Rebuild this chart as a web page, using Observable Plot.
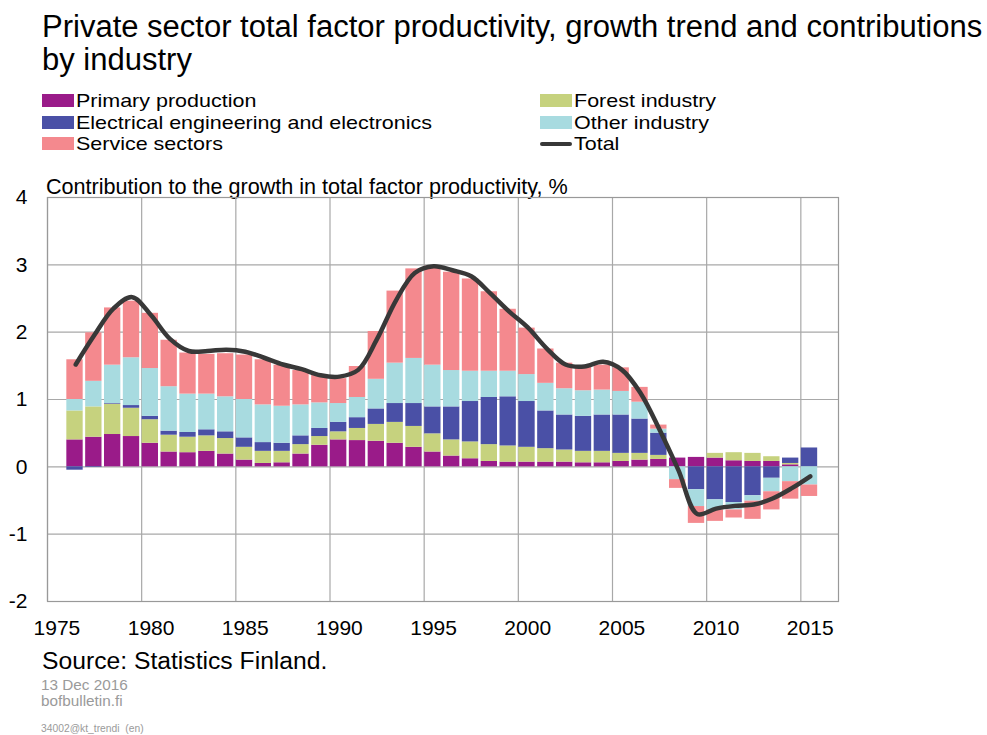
<!DOCTYPE html>
<html><head><meta charset="utf-8">
<script src="https://cdn.jsdelivr.net/npm/d3@7"></script>
<script src="https://cdn.jsdelivr.net/npm/@observablehq/plot@0.6"></script>
<style>
body{margin:0;background:#fff;font-family:"Liberation Sans",Arial,sans-serif;color:#000;}
#page{position:relative;width:987px;height:735px;overflow:hidden;background:#fff;}
.abs{position:absolute;white-space:nowrap;line-height:1;}
#title{left:42px;top:10px;font-size:31px;line-height:33px;white-space:normal;width:945px;}
.leg{position:absolute;font-size:19px;line-height:19px;white-space:nowrap;transform:scaleX(1.131);transform-origin:0 50%;}
.sw{position:absolute;width:32px;height:13px;}
#chart{position:absolute;left:0;top:170px;}
</style></head><body><div id="page">
<div id="title" class="abs">Private sector total factor productivity, growth trend and contributions by industry</div>
<div id="legend"></div>
<div class="abs" style="left:46px;top:175.8px;font-size:21.6px;">Contribution to the growth in total factor productivity, %</div>
<div id="chart"></div>
<div class="abs" style="left:42px;top:649.1px;font-size:24.7px;">Source: Statistics Finland.</div>
<div class="abs" style="left:41px;top:677px;font-size:15.3px;color:#9a9a9a;">13 Dec 2016</div>
<div class="abs" style="left:41px;top:693px;font-size:15.3px;color:#9a9a9a;">bofbulletin.fi</div>
<div class="abs" style="left:41px;top:724.3px;font-size:10.3px;color:#9a9a9a;white-space:pre;">34002@kt_trendi  (en)</div>
</div>
<script>
const years = [1976,1977,1978,1979,1980,1981,1982,1983,1984,1985,1986,1987,1988,1989,1990,1991,1992,1993,1994,1995,1996,1997,1998,1999,2000,2001,2002,2003,2004,2005,2006,2007,2008,2009,2010,2011,2012,2013,2014,2015];
const primary    = [0.40,0.44,0.48,0.45,0.35,0.22,0.21,0.23,0.19,0.10,0.05,0.06,0.19,0.32,0.40,0.39,0.38,0.35,0.29,0.22,0.16,0.12,0.08,0.07,0.07,0.07,0.07,0.06,0.06,0.08,0.10,0.11,0.13,0.14,0.13,0.09,0.08,0.08,0.03,0.00];
const forest     = [0.43,0.45,0.45,0.42,0.35,0.25,0.23,0.23,0.23,0.19,0.18,0.17,0.14,0.13,0.12,0.18,0.25,0.31,0.31,0.27,0.24,0.25,0.25,0.24,0.22,0.20,0.18,0.17,0.17,0.12,0.10,0.06,0.00,0.00,0.07,0.12,0.12,0.07,0.02,0.00];
const electrical = [-0.05,-0.01,0.01,0.04,0.05,0.06,0.07,0.09,0.10,0.14,0.13,0.12,0.13,0.12,0.14,0.16,0.23,0.28,0.34,0.40,0.49,0.60,0.70,0.73,0.68,0.56,0.52,0.52,0.54,0.57,0.51,0.33,0.00,-0.34,-0.49,-0.53,-0.43,-0.17,0.08,0.28];
const other      = [0.17,0.38,0.57,0.71,0.71,0.66,0.57,0.53,0.52,0.57,0.56,0.55,0.46,0.38,0.28,0.30,0.44,0.60,0.67,0.62,0.54,0.45,0.39,0.38,0.40,0.41,0.39,0.38,0.37,0.35,0.25,0.06,-0.19,-0.25,-0.15,-0.11,-0.08,-0.20,-0.22,-0.27];
const service    = [0.59,0.72,0.85,0.84,0.82,0.69,0.61,0.59,0.64,0.66,0.67,0.61,0.51,0.41,0.37,0.46,0.71,1.07,1.33,1.47,1.46,1.37,1.18,0.92,0.69,0.51,0.38,0.36,0.37,0.35,0.22,0.06,-0.13,-0.25,-0.17,-0.12,-0.27,-0.27,-0.26,-0.17];
const total      = [1.52,1.96,2.35,2.52,2.25,1.90,1.72,1.72,1.74,1.71,1.62,1.52,1.45,1.36,1.34,1.44,1.90,2.47,2.88,2.98,2.92,2.83,2.58,2.31,2.07,1.76,1.52,1.49,1.56,1.44,1.09,0.55,-0.05,-0.70,-0.62,-0.58,-0.56,-0.47,-0.32,-0.14];
const seriesNames = ["Primary production","Forest industry","Electrical engineering and electronics","Other industry","Service sectors"];
const seriesColors = ["#9a1b89","#c6d27e","#4a50a6","#a8dbe0","#f4898e"];
const totalName = "Total";
const totalColor = "#383838";
const xTicks = [1975,1980,1985,1990,1995,2000,2005,2010,2015];
const yTicks = [-2,-1,0,1,2,3,4];

const seriesValues = [primary, forest, electrical, other, service];
const rows = [];
years.forEach((yr, i) => {
  seriesValues.forEach((arr, j) => rows.push({year: yr, year2: yr + 1, sector: seriesNames[j], value: arr[i]}));
});
const totalRows = years.map((yr, i) => ({x: yr + 0.5, total: total[i]}));

// legend
const legend = document.getElementById("legend");
const legendItems = [
  [seriesNames[0], seriesColors[0], 0, 0],
  [seriesNames[2], seriesColors[2], 0, 1],
  [seriesNames[4], seriesColors[4], 0, 2],
  [seriesNames[1], seriesColors[1], 1, 0],
  [seriesNames[3], seriesColors[3], 1, 1],
  [totalName, totalColor, 1, 2]
];
legendItems.forEach(([name, color, col, row]) => {
  const x0 = col === 0 ? 42 : 540;
  const top = 91.4 + row * 21.2;
  const sw = document.createElement("div");
  sw.className = "sw";
  sw.style.left = x0 + "px";
  if (name === totalName) {
    sw.style.top = (top + 8.2) + "px";
    sw.style.height = "4px";
    sw.style.borderRadius = "2px";
  } else {
    sw.style.top = (top + 3) + "px";
  }
  sw.style.background = color;
  legend.appendChild(sw);
  const t = document.createElement("div");
  t.className = "leg";
  t.style.left = (x0 + 34) + "px";
  t.style.top = top + "px";
  t.textContent = name;
  legend.appendChild(t);
});

const chart = Plot.plot({
  width: 987,
  height: 476,
  marginLeft: 47,
  marginRight: 149,
  marginTop: 27,
  marginBottom: 45,
  x: {domain: [1975, 2017]},
  y: {domain: [-2, 4]},
  color: {domain: seriesNames, range: seriesColors},
  style: {fontSize: "21px", fontFamily: "'Liberation Sans', Arial, sans-serif", background: "transparent", color: "#000", overflow: "visible"},
  marks: [
    Plot.gridX(xTicks, {stroke: "#a8a8a8", strokeOpacity: 1, strokeWidth: 1.2}),
    Plot.gridY(yTicks, {stroke: "#a8a8a8", strokeOpacity: 1, strokeWidth: 1.2}),
    Plot.rectY(rows, {x1: "year", x2: "year2", y: "value", fill: "sector", insetLeft: 0.5, insetRight: 2}),
    Plot.line(totalRows, {x: "x", y: "total", stroke: totalColor, strokeWidth: 4.5, curve: "catmull-rom", strokeLinecap: "round"}),
    Plot.frame({stroke: "#999", strokeWidth: 1.2}),
    Plot.axisY(yTicks, {tickSize: 0, tickPadding: 20, tickFormat: d => String(d), label: null, fontSize: 21}),
    Plot.axisX(xTicks, {tickSize: 0, tickPadding: 19, tickFormat: d => String(d), label: null, dx: 9.4, fontSize: 21})
  ]
});
document.getElementById("chart").appendChild(chart);
</script>
</body></html>
